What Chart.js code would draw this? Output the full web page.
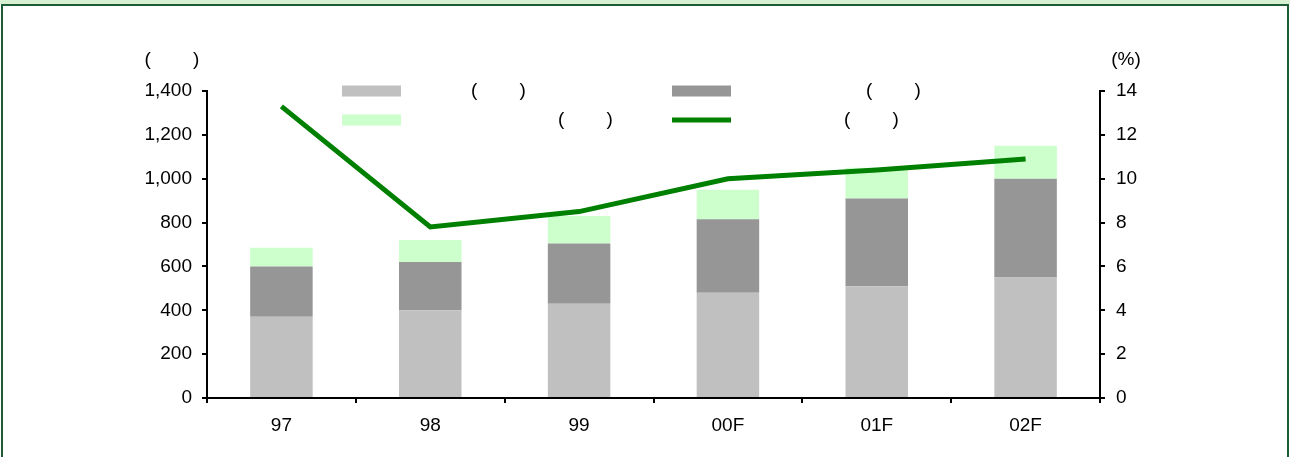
<!DOCTYPE html>
<html lang="ko">
<head>
  <meta charset="UTF-8">
  <title>Chart</title>
  <style>
    body {
      margin: 0;
      width: 1290px;
      height: 457px;
      overflow: hidden;
      position: relative;
      background: #fff;
      font-family: "Liberation Sans", Arial, sans-serif;
    }
    .band {
      position: absolute;
      left: 0;
      top: 0;
      width: 1290px;
      height: 4px;
      background: #d8f0d2;
    }
    .frame {
      position: absolute;
      left: 1px;
      top: 4px;
      width: 1288px;
      height: 470px;
      box-sizing: border-box;
      border: 2px solid #1d5c34;
    }
    canvas {
      position: absolute;
      left: 0;
      top: 0;
    }
  </style>
  <script src="https://cdn.jsdelivr.net/npm/chart.js"></script>
</head>
<body>
  <div class="band"></div>
  <div class="frame"></div>
  <canvas id="chart" width="1290" height="457"></canvas>
  <script>
    const years = ['97', '98', '99', '00F', '01F', '02F'];
    const seriesA = [370, 400, 430, 480, 510, 550];
    const seriesB = [230, 220, 275, 335, 400, 450];
    const seriesC = [85, 100, 125, 135, 140, 150];
    const ratio = [13.3, 7.8, 8.5, 10.0, 10.4, 10.9];
    const seriesNames = ['(        )', '(        )', '(        )', '(        )'];
    const unitLeft = '(        )';
    const unitRight = '(%)';

    const FONT = '19px "Liberation Sans", Arial, sans-serif';

    // legend + axis unit captions, drawn by hand at fixed spots
    const overlay = {
      id: 'overlay',
      afterDraw(chart) {
        const ctx = chart.ctx;
        ctx.save();
        ctx.font = FONT;
        ctx.fillStyle = '#000';
        ctx.textBaseline = 'middle';
        ctx.textAlign = 'center';
        ctx.fillText(unitLeft, 172, 60);
        ctx.fillText(unitRight, 1126, 60);

        const slots = [
          { x: 342, y: 91, tx: 471 },
          { x: 672, y: 91, tx: 866 },
          { x: 342, y: 120, tx: 558 },
          { x: 672, y: 120, tx: 844 }
        ];
        chart.data.datasets.forEach((ds, i) => {
          const s = slots[i];
          if (ds.type === 'line') {
            ctx.strokeStyle = ds.borderColor;
            ctx.lineWidth = 5;
            ctx.beginPath();
            ctx.moveTo(s.x, s.y);
            ctx.lineTo(s.x + 59, s.y);
            ctx.stroke();
          } else {
            ctx.fillStyle = ds.backgroundColor;
            ctx.fillRect(s.x, s.y - 5.5, 59, 11);
          }
          ctx.fillStyle = '#000';
          ctx.textAlign = 'left';
          ctx.fillText(ds.label, s.tx, s.y);
        });
        ctx.restore();
      }
    };

    const axisGrid = {
      drawOnChartArea: false,
      drawTicks: true,
      tickLength: 5,
      color: '#000',
      lineWidth: 2
    };
    const axisBorder = { color: '#000', width: 2 };
    const tickFont = { family: '"Liberation Sans", Arial, sans-serif', size: 19 };

    const barDefaults = { type: 'bar', stack: 's', order: 1, barPercentage: 0.42, categoryPercentage: 1, borderWidth: 0 };

    new Chart(document.getElementById('chart'), {
      data: {
        labels: years,
        datasets: [
          Object.assign({ label: seriesNames[0], data: seriesA, backgroundColor: '#c0c0c0' }, barDefaults),
          Object.assign({ label: seriesNames[1], data: seriesB, backgroundColor: '#969696' }, barDefaults),
          Object.assign({ label: seriesNames[2], data: seriesC, backgroundColor: '#ccffcc' }, barDefaults),
          {
            type: 'line',
            label: seriesNames[3],
            data: ratio,
            yAxisID: 'y2',
            order: 0,
            borderColor: '#008000',
            borderWidth: 5,
            pointRadius: 0,
            tension: 0
          }
        ]
      },
      options: {
        responsive: false,
        devicePixelRatio: 1,
        animation: false,
        layout: { padding: { top: 91, left: 0, right: 0, bottom: 0 } },
        plugins: {
          legend: { display: false },
          tooltip: { enabled: false }
        },
        scales: {
          x: {
            stacked: true,
            grid: Object.assign({ offset: true }, axisGrid),
            border: axisBorder,
            ticks: { color: '#000', font: tickFont, padding: 11 },
            afterFit(s) { s.height = 59; }
          },
          y: {
            stacked: true,
            min: 0,
            max: 1400,
            grid: axisGrid,
            border: axisBorder,
            ticks: {
              stepSize: 200,
              color: '#000',
              font: tickFont,
              padding: 10,
              callback: v => v.toLocaleString('en-US')
            },
            afterFit(s) { s.width = 207; }
          },
          y2: {
            position: 'right',
            min: 0,
            max: 14,
            grid: axisGrid,
            border: axisBorder,
            ticks: { stepSize: 2, color: '#000', font: tickFont, padding: 11 },
            afterFit(s) { s.width = 190; }
          }
        }
      },
      plugins: [overlay]
    });
  </script>
</body>
</html>
